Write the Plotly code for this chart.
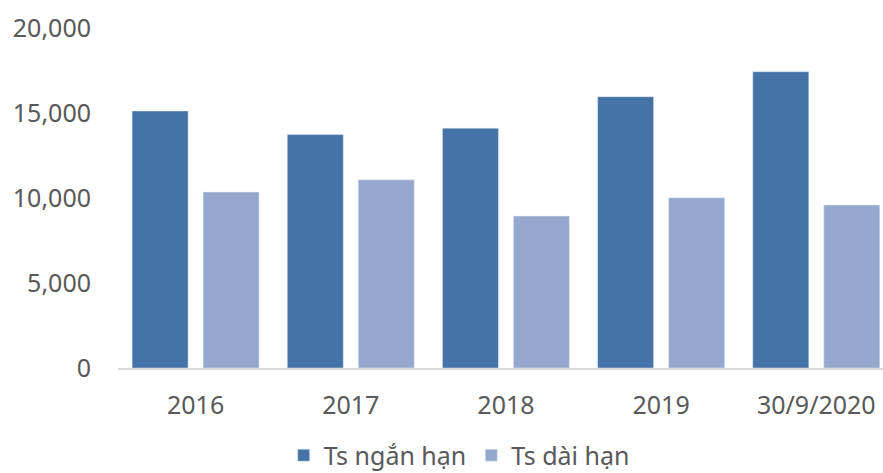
import plotly.graph_objects as go

categories = ["2016", "2017", "2018", "2019", "30/9/2020"]
short_term = [15120, 13730, 14110, 15960, 17430]
long_term = [10350, 11070, 8940, 10010, 9590]
series_names = ["Ts ngắn hạn", "Ts dài hạn"]
y_ticks = [0, 5000, 10000, 15000, 20000]

DARK = "#4573A7"
LIGHT = "#95A9CF"
TEXT = "#595959"
FONT = "Noto Sans"

fig = go.Figure()
fig.add_trace(go.Bar(x=categories, y=short_term, name=series_names[0],
                     marker=dict(color=DARK)))
fig.add_trace(go.Bar(x=categories, y=long_term, name=series_names[1],
                     marker=dict(color=LIGHT)))

fig.update_layout(
    width=883, height=473,
    margin=dict(l=118, r=0, t=28, b=104.5, autoexpand=False),
    paper_bgcolor="white", plot_bgcolor="white",
    barmode="group", bargap=0.085, bargroupgap=0.211,
    font=dict(family=FONT, size=25, color=TEXT),
    showlegend=True,
    legend=dict(orientation="h", x=0.446, xanchor="center", y=-0.257, yanchor="middle",
                font=dict(family=FONT, size=25, color=TEXT), bgcolor="rgba(0,0,0,0)"),
)
fig.update_xaxes(range=[-0.5, 4.43], automargin=False, showgrid=False, showline=True,
                 linecolor="#D9D9D9", linewidth=1.5, ticks="", ticklabelstandoff=14,
                 tickfont=dict(family=FONT, size=25, color=TEXT))
fig.update_yaxes(range=[0, 20000], automargin=False, tickvals=y_ticks, tickformat=",",
                 showgrid=False, zeroline=False, showline=False, ticks="", ticklabelstandoff=26,
                 tickfont=dict(family=FONT, size=25, color=TEXT))

fig.write_html("out.html", config={"displayModeBar": False},
               post_script="document.body.style.margin='0';document.body.style.overflow='hidden';")
